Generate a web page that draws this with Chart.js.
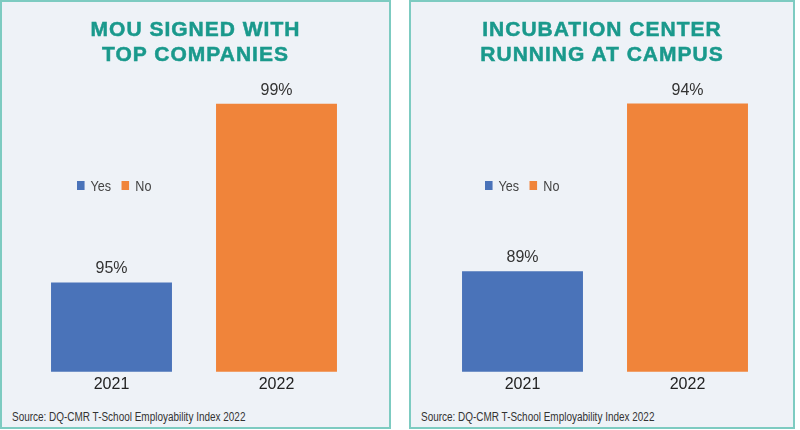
<!DOCTYPE html>
<html lang="en">
<head>
    <meta charset="utf-8" />
    <title>T-School Employability Index 2022</title>
    <script src="https://cdn.jsdelivr.net/npm/chart.js"></script>
    <style>
        body {
            margin: 0;
            width: 800px;
            height: 430px;
            background: #fff;
            position: relative;
            overflow: hidden;
            font-family: "Liberation Sans", Arial, sans-serif;
        }
        .panel {
            position: absolute;
            top: 0;
            height: 429px;
            box-sizing: border-box;
            border: 2px solid #7dcbc1;
            background: #eef2f7;
        }
        #panel1 { left: 0; width: 391px; }
        #panel2 { left: 409px; width: 386px; }
        .chart-box {
            position: absolute;
            left: 0;
            top: 0;
            width: 100%;
            height: 400px;
        }
        .title {
            position: absolute;
            left: 0;
            right: 0;
            top: 14px;
            text-align: center;
            color: #1a998c;
            font-weight: bold;
            font-size: 21px;
            line-height: 25px;
            letter-spacing: 1px;
            -webkit-text-stroke: 0.5px #1a998c;
        }
        .legend {
            position: absolute;
            top: 175px;
            font-size: 15px;
            color: #444;
            white-space: nowrap;
            transform: scaleX(0.84);
            transform-origin: left center;
        }
        .legend span.box {
            display: inline-block;
            width: 9px;
            height: 9px;
            margin-right: 7px;
            vertical-align: 1px;
        }
        .legend span.item { margin-right: 13px; }
        .source {
            position: absolute;
            left: 10px;
            top: 408px;
            font-size: 12px;
            color: #333;
            white-space: nowrap;
            transform: scaleX(0.83);
            transform-origin: left center;
        }
    </style>
</head>
<body>
    <div class="panel" id="panel1">
        <div class="chart-box"><canvas id="chart1"></canvas></div>
        <div class="title">MOU SIGNED WITH<br>TOP COMPANIES</div>
        <div class="legend" id="legend1" style="left:75px"></div>
        <div class="source">Source: DQ-CMR T-School Employability Index 2022</div>
    </div>
    <div class="panel" id="panel2">
        <div class="chart-box"><canvas id="chart2"></canvas></div>
        <div class="title">INCUBATION CENTER<br>RUNNING AT CAMPUS</div>
        <div class="legend" id="legend2" style="left:74px"></div>
        <div class="source">Source: DQ-CMR T-School Employability Index 2022</div>
    </div>
    <script>
        var years = ['2021', '2022'];
        var mouValues = [95, 99];
        var incubationValues = [89, 94];
        var legendLabels = ['Yes', 'No'];
        var barColors = ['#4a73b9', '#f0843a'];
        // the bars in the picture sit on a cut-off axis
        var mouRange = [93, 100];
        var incubationRange = [86, 95];

        var valueLabels = {
            id: 'valueLabels',
            afterDatasetsDraw: function (chart) {
                var ctx = chart.ctx;
                var meta = chart.getDatasetMeta(0);
                ctx.save();
                ctx.font = '16px "Liberation Sans", Arial, sans-serif';
                ctx.fillStyle = '#333';
                ctx.textAlign = 'center';
                ctx.textBaseline = 'alphabetic';
                meta.data.forEach(function (bar, i) {
                    ctx.fillText(chart.data.datasets[0].data[i] + '%', bar.x, bar.y - 9);
                });
                ctx.restore();
            }
        };

        function makeLegend(id) {
            var html = '';
            legendLabels.forEach(function (label, i) {
                html += '<span class="item"><span class="box" style="background:' + barColors[i] + '"></span>' + label + '</span>';
            });
            document.getElementById(id).innerHTML = html;
        }

        function makeChart(canvasId, values, range, padding) {
            var ctx = document.getElementById(canvasId).getContext('2d');
            return new Chart(ctx, {
                type: 'bar',
                data: {
                    labels: years,
                    datasets: [{
                        data: values,
                        backgroundColor: barColors,
                        borderWidth: 0,
                        barPercentage: 0.733,
                        categoryPercentage: 1
                    }]
                },
                options: {
                    responsive: true,
                    maintainAspectRatio: false,
                    animation: false,
                    layout: { padding: padding },
                    scales: {
                        x: {
                            grid: { display: false, drawTicks: false },
                            border: { display: false },
                            ticks: {
                                padding: 3,
                                color: '#222',
                                font: { family: '"Liberation Sans", Arial, sans-serif', size: 16 }
                            }
                        },
                        y: {
                            display: false,
                            min: range[0],
                            max: range[1]
                        }
                    },
                    plugins: {
                        legend: { display: false },
                        tooltip: { enabled: false }
                    }
                },
                plugins: [valueLabels]
            });
        }

        makeLegend('legend1');
        makeLegend('legend2');
        makeChart('chart1', mouValues, mouRange, { top: 57, bottom: 5, left: 27, right: 30 });
        makeChart('chart2', incubationValues, incubationRange, { top: 68, bottom: 5, left: 29, right: 23 });
    </script>
</body>
</html>
